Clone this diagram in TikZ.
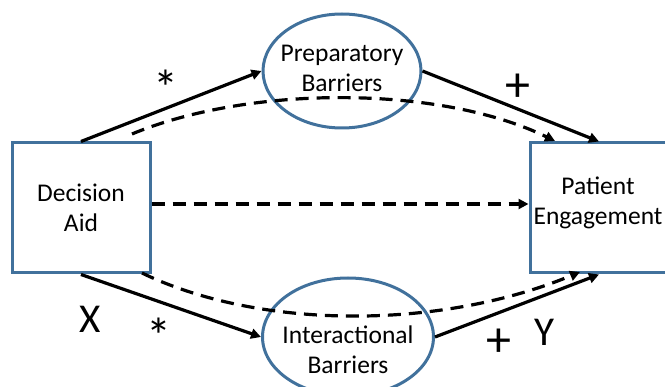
\documentclass[tikz,border=0pt]{standalone}
\usepackage{fontspec}
\setmainfont{Carlito}
\usetikzlibrary{shapes.geometric,arrows.meta}
\definecolor{obl}{RGB}{65,113,156}
\begin{document}
\begin{tikzpicture}[x=1pt,y=-1pt,
  boxst/.style={draw=obl,line width=3pt,minimum width=138pt,minimum height=130pt,inner sep=0pt},
  ellst/.style={draw=obl,line width=3pt,ellipse,inner sep=0pt},
  txt/.style={font=\fontsize{25.5}{30}\selectfont,align=center,inner sep=0pt},
  sym/.style={font=\fontsize{50}{50}\selectfont,inner sep=0pt},
  big/.style={font=\fontsize{41}{41}\selectfont,inner sep=0pt},
  solidarr/.style={line width=3.2pt,-{Triangle[length=10pt,width=10pt]}},
  dasharr/.style={line width=3.2pt,dash pattern=on 13pt off 8pt,-{Triangle[length=10pt,width=10pt]}}
]
\useasboundingbox (0,0) rectangle (665,387);
\node[boxst] (da) at (81,208) {};
\node[txt] (dat) at (81,208) {Decision\\Aid};
\node[boxst] (pe) at (599,208) {};
\node[txt] (pet) at (598,203) {Patient\\Engagement};
\node[ellst,minimum width=158pt,minimum height=114pt] (pb) at (342,71) {};
\node[txt] (pbt) at (342,68) {Preparatory\\Barriers};
\node[ellst,minimum width=171pt,minimum height=118pt] (ib) at (348,337) {};
\node[txt] (ibt) at (348,350) {Interactional\\Barriers};
\coordinate (uds) at (132,134);
\coordinate (ude) at (555,141);
\coordinate (lds) at (142,273);
\coordinate (lde) at (580,272);
\draw[solidarr] (da.north) -- (pb.west);
\draw[solidarr] (pb.east) -- (pe.north);
\draw[solidarr] (da.south) -- (ib.west);
\draw[solidarr] (ib.east) -- (pe.south);
\draw[dasharr] ([yshift=4pt]da.east) -- ([yshift=4pt]pe.west);
\draw[dasharr] (uds) .. controls (250,85) and (440,85) .. (ude);
\draw[dasharr] (lds) .. controls (260,330) and (440,330) .. (lde);
\node[sym] (s1) at (166,88) {*};
\node[sym] (p1) at (518,88) {+};
\node[big] (x) at (90,319) {X};
\node[sym] (s2) at (159,336) {*};
\node[sym] (p2) at (499,343) {+};
\node[big] (y) at (544,332) {Y};
\end{tikzpicture}
\end{document}
